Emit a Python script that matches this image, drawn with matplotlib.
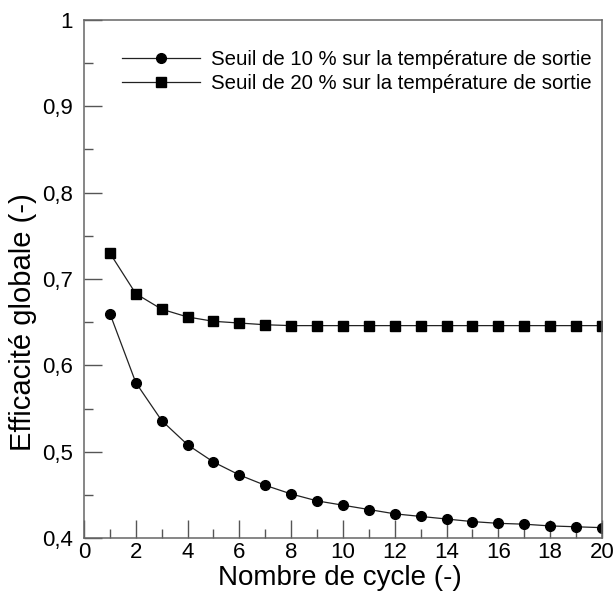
import numpy as np
import matplotlib
matplotlib.use('Agg')
import matplotlib.pyplot as plt
from matplotlib.ticker import FuncFormatter, MultipleLocator

plt.rcParams['font.family'] = ['Liberation Sans', 'DejaVu Sans']

cycles = list(range(1, 21))
seuil_10 = [0.660, 0.580, 0.536, 0.508, 0.488, 0.473, 0.461, 0.451, 0.443, 0.438,
            0.433, 0.428, 0.425, 0.422, 0.419, 0.417, 0.416, 0.414, 0.413, 0.412]
seuil_20 = [0.730, 0.683, 0.665, 0.656, 0.651, 0.649, 0.647, 0.646, 0.646, 0.646,
            0.646, 0.646, 0.646, 0.646, 0.646, 0.646, 0.646, 0.646, 0.646, 0.646]
labels = ['Seuil de 10 % sur la température de sortie',
          'Seuil de 20 % sur la température de sortie']


def comma_fmt(v, pos):
    s = f'{v:.1f}'
    if s.endswith('.0'):
        s = s[:-2]
    return s.replace('.', ',')


fig = plt.figure(figsize=(6.14, 6.02), dpi=100)
ax = fig.add_axes([0.1368, 0.1063, 0.8436, 0.8605])

ax.plot(cycles, seuil_10, '-', color='#222222', lw=0.9, marker='o', ms=7,
        mfc='black', mec='black', label=labels[0])
ax.plot(cycles, seuil_20, '-', color='#222222', lw=0.9, marker='s', ms=7,
        mfc='black', mec='black', label=labels[1])

ax.set_xlim(0, 20)
ax.set_ylim(0.4, 1.0)
ax.xaxis.set_major_locator(MultipleLocator(2))
ax.xaxis.set_minor_locator(MultipleLocator(1))
ax.yaxis.set_major_locator(MultipleLocator(0.1))
ax.yaxis.set_minor_locator(MultipleLocator(0.05))
ax.yaxis.set_major_formatter(FuncFormatter(comma_fmt))

ax.tick_params(which='major', direction='in', length=13, width=1.0,
               color='#555555', labelsize=16)
ax.tick_params(which='minor', direction='in', length=6.5, width=1.0,
               color='#555555')
ax.tick_params(axis='x', which='major', pad=3)
ax.tick_params(axis='y', which='major', pad=8)
for sp in ax.spines.values():
    sp.set_color('#666666')
    sp.set_linewidth(1.1)

ax.set_xlabel('Nombre de cycle (-)', fontsize=20)
ax.set_ylabel('Efficacité globale (-)', fontsize=21)
ax.xaxis.set_label_coords(0.494, -0.077)
ax.xaxis.label.set_va('center')
ax.yaxis.set_label_coords(-0.117, 0.417)
ax.yaxis.label.set_va('center')

ax.legend(loc='upper left', bbox_to_anchor=(0.1987, 0.917),
          bbox_transform=fig.transFigure, frameon=False, fontsize=14.7,
          handlelength=3.8, handletextpad=0.58, labelspacing=0.25,
          borderpad=0, borderaxespad=0)

fig.savefig('out.png', dpi=100)
